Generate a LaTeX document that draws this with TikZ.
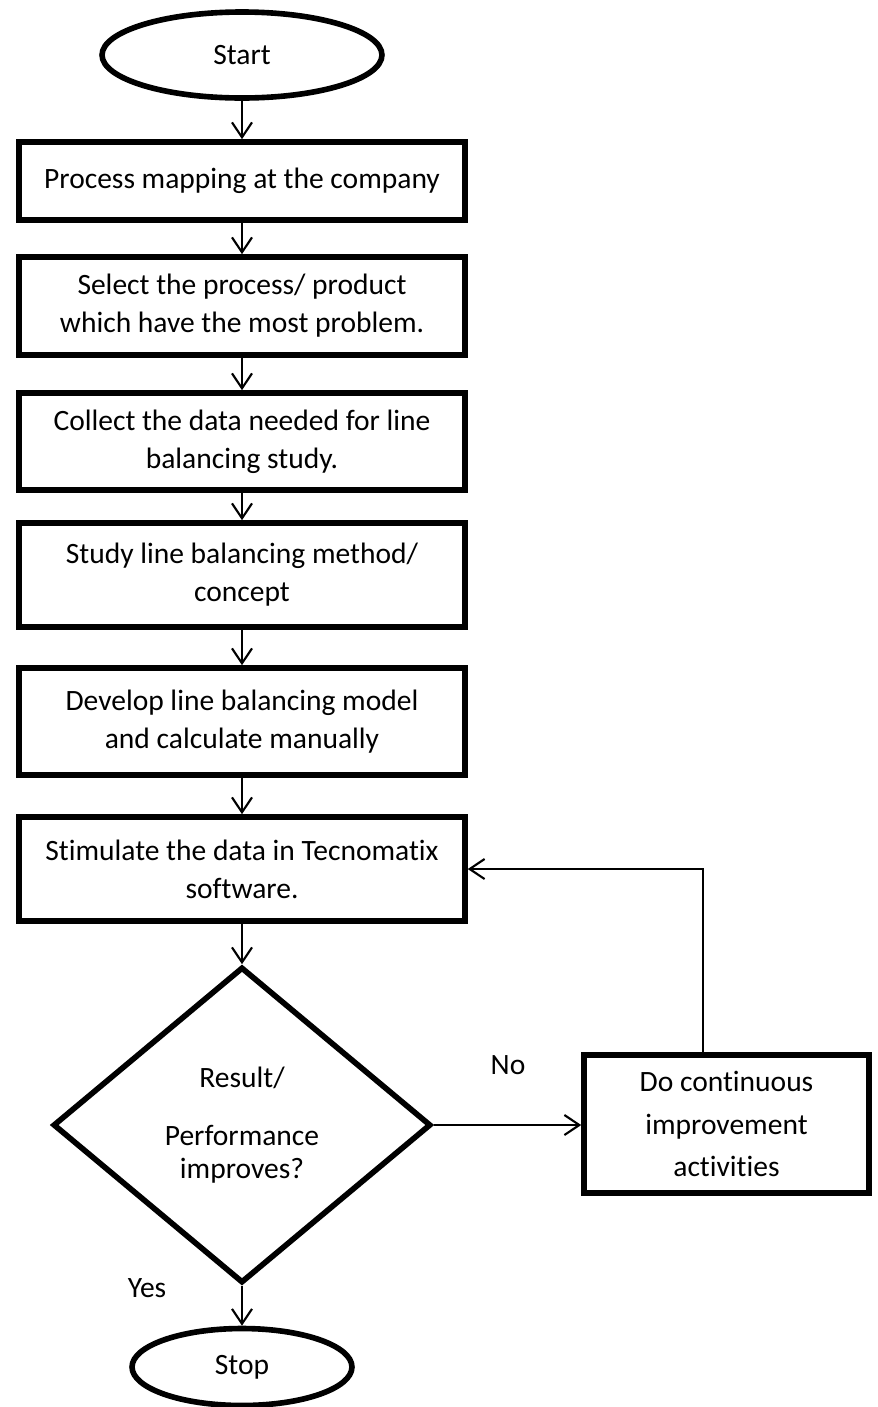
\documentclass[tikz,border=0pt]{standalone}
\usepackage{fontspec}
\setmainfont{Carlito}[Ligatures=NoCommon]
\usetikzlibrary{shapes.geometric,arrows.meta}

\begin{document}
\begin{tikzpicture}[x=0.02cm,y=-0.02cm]%
  \tikzstyle{boxn}=[rectangle,draw,line width=3.2pt,minimum width=8.92cm,inner sep=0,align=center,font=\fontsize{16.8}{21.6}\selectfont]
  \tikzstyle{ovln}=[ellipse,draw,line width=3.2pt,inner sep=0,font=\fontsize{16.8}{21.6}\selectfont]
  \tikzstyle{decn}=[diamond,draw,line width=3.2pt,inner sep=0,minimum width=7.56cm,minimum height=6.32cm,align=center,font=\fontsize{16.8}{18.8}\selectfont]
  \tikzstyle{lbln}=[font=\fontsize{16.8}{21.6}\selectfont]
  \tikzstyle{arr}=[line width=1.2pt,-{Straight Barb[length=8.5pt,width=11.4pt]}]
  \useasboundingbox (0,0) rectangle (877,1407);
  % main column
  \node(start)[ovln,minimum width=5.6cm,minimum height=1.72cm] at (242,55) {Start};
  \node(map)[boxn,minimum height=1.56cm] at (242,181) {Process mapping at the company};
  \node(sel)[boxn,minimum height=1.96cm] at (242,306) {Select the process/ product\\which have the most problem.};
  \node(data)[boxn,minimum height=1.94cm] at (242,441.5) {Collect the data needed for line\\balancing study.};
  \node(study)[boxn,minimum height=2.08cm] at (242,575) {Study line balancing method/\\concept};
  \node(model)[boxn,minimum height=2.14cm] at (242,721.5) {Develop line balancing model\\and calculate manually};
  \node(sim)[boxn,minimum height=2.08cm] at (242,869) {Stimulate the data in Tecnomatix\\software.};
  \node(dec)[decn] at (242,1125) {Result/\\[14pt]Performance\\improves?};
  \node(stop)[ovln,minimum width=4.4cm,minimum height=1.54cm] at (242,1367) {Stop};
  % side branch
  \node(ci)[boxn,minimum width=5.7cm,minimum height=2.76cm,font=\fontsize{16.8}{24}\selectfont] at (726.5,1124) {Do continuous\\improvement\\activities};
  \node(no)[lbln] at (508,1065) {No};
  \node(yes)[lbln] at (147,1288) {Yes};
  \coordinate(back) at (703,872);
  \draw[arr] (start) -- (map);
  \draw[arr] (map) -- (sel);
  \draw[arr] (sel) -- (data);
  \draw[arr] (data) -- (study);
  \draw[arr] (study) -- (model);
  \draw[arr] (model) -- (sim);
  \draw[arr] (sim) -- (dec);
  \draw[arr] (dec) -- (stop);
  \draw[arr] (dec.east) -- (ci.west |- dec.east);
  \draw[arr] (ci.north -| back) |- (sim.east);
\end{tikzpicture}
\end{document}
